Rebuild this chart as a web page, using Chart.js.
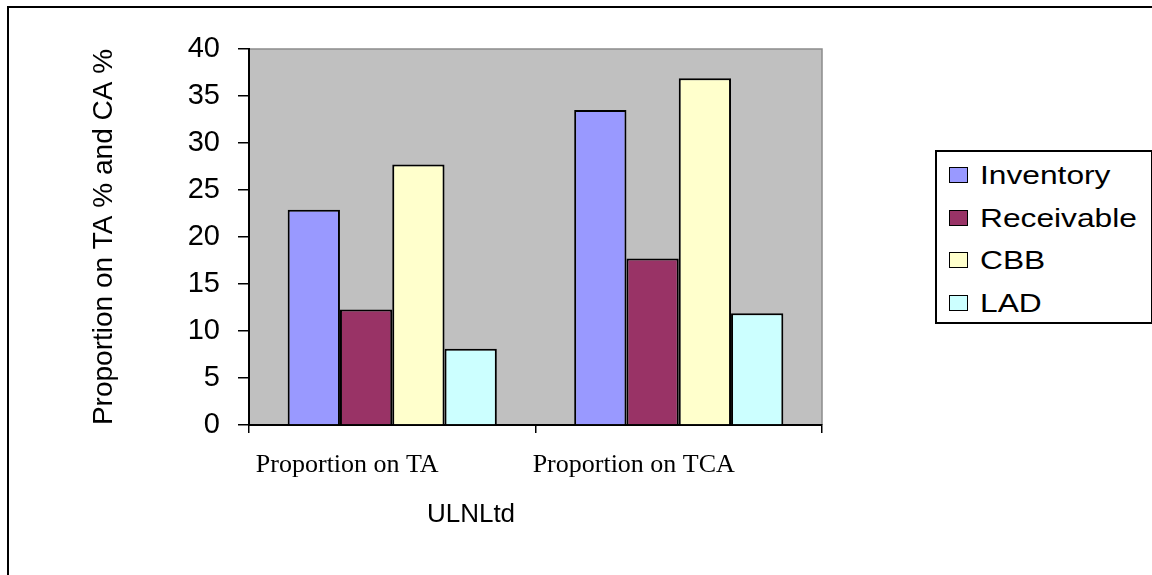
<!DOCTYPE html>
<html lang="en">
<head>
<meta charset="UTF-8">
<title>ULNLtd</title>
<style>
    html, body { margin: 0; padding: 0; background: #fff; overflow: hidden; }
    #frame { position: absolute; left: 7px; top: 6px; width: 1300px; height: 700px; border: 2px solid #000; }
    #wrap { position: absolute; left: 0; top: 0; width: 1152px; height: 575px; }
    #xTitle { position: absolute; left: 371px; width: 200px; top: 500px; text-align: center;
        font: 26px "Liberation Sans", Arial, sans-serif; line-height: 1; color: #000; }
    #legend { position: absolute; left: 935px; top: 150px; width: 218px; height: 174px;
        border: 2px solid #000; background: #fff; box-sizing: border-box; }
    .item { position: absolute; left: 12px; height: 30px; font: 26px "Liberation Sans", Arial, sans-serif;
        line-height: 30px; color: #000; white-space: nowrap; }
    .swatch { position: absolute; left: 0; top: 7px; width: 17px; height: 14px; border: 1.5px solid #000; }
    .label { position: absolute; left: 31px; top: 0; transform: scaleX(1.22); transform-origin: left center; }
</style>
</head>
<body>
<div id="frame"></div>
<div id="wrap"><canvas id="chart"></canvas></div>
<div id="xTitle">ULNLtd</div>
<div id="legend"></div>
<script src="https://cdn.jsdelivr.net/npm/chart.js"></script>
<script>
    const categories = ['Proportion on TA', 'Proportion on TCA'];
    const seriesNames = ['Inventory', 'Receivable', 'CBB', 'LAD'];
    const inventory = [22.9, 33.5];
    const receivable = [12.3, 17.7];
    const cbb = [27.7, 36.9];
    const lad = [8.1, 11.9];
    const yMin = 0, yMax = 40, yStep = 5;

    const colors = ['#9999FF', '#993366', '#FFFFCC', '#CCFFFF'];
    const values = [inventory, receivable, cbb, lad];

    const plotBg = {
        id: 'plotBg',
        beforeDraw(chart) {
            const { ctx, chartArea: a } = chart;
            ctx.save();
            ctx.fillStyle = '#C0C0C0';
            ctx.fillRect(a.left, a.top, a.right - a.left, a.bottom - a.top);
            ctx.strokeStyle = '#8c8c8c';
            ctx.lineWidth = 1.5;
            ctx.beginPath();
            ctx.moveTo(a.left, a.top);
            ctx.lineTo(a.right, a.top);
            ctx.lineTo(a.right, a.bottom);
            ctx.stroke();
            ctx.restore();
        }
    };

    const ctx = document.getElementById('chart').getContext('2d');
    const chart = new Chart(ctx, {
        type: 'bar',
        data: {
            labels: categories,
            datasets: seriesNames.map((name, i) => ({
                label: name,
                data: values[i],
                backgroundColor: colors[i],
                borderColor: '#000',
                borderWidth: 2,
                categoryPercentage: 0.73,
                barPercentage: 1.0
            }))
        },
        options: {
            responsive: true,
            maintainAspectRatio: false,
            animation: false,
            layout: { padding: { top: 49, right: 330, bottom: 0, left: 0 } },
            plugins: { legend: { display: false }, tooltip: { enabled: false } },
            scales: {
                x: {
                    afterFit(scale) { scale.height = 150; },
                    grid: { drawOnChartArea: false, tickLength: 8, color: '#000', lineWidth: 1.5, offset: true },
                    border: { color: '#000', width: 2 },
                    ticks: {
                        color: '#000', padding: 17, labelOffset: -45, maxRotation: 0,
                        font: { family: '"Liberation Serif", "Times New Roman", serif', size: 26 }
                    }
                },
                y: {
                    min: yMin, max: yMax,
                    afterFit(scale) { scale.width = 249; },
                    grid: { drawOnChartArea: false, tickLength: 11, color: '#000', lineWidth: 1.5 },
                    border: { color: '#000', width: 2 },
                    ticks: {
                        stepSize: yStep, color: '#000', padding: 18,
                        font: { family: '"Liberation Sans", Arial, sans-serif', size: 29 }
                    },
                    title: {
                        display: true, text: 'Proportion on TA % and CA %', color: '#000',
                        padding: { top: 87, bottom: 0 },
                        font: { family: '"Liberation Sans", Arial, sans-serif', size: 28 }
                    }
                }
            }
        },
        plugins: [plotBg]
    });

    // legend box on the right
    const legend = document.getElementById('legend');
    seriesNames.forEach((name, i) => {
        const item = document.createElement('div');
        item.className = 'item';
        item.style.top = (8 + i * 42.7) + 'px';
        item.innerHTML = `<span class="swatch" style="background:${colors[i]}"></span><span class="label">${name}</span>`;
        legend.appendChild(item);
    });
</script>
</body>
</html>
